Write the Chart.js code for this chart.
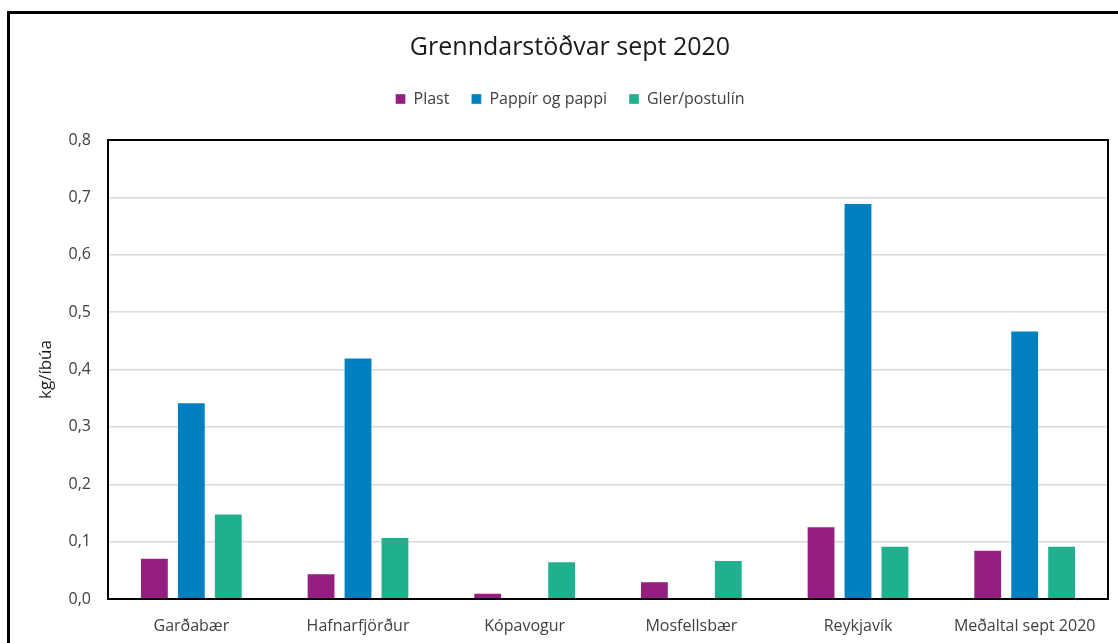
<!DOCTYPE html>
<html>
<head>
<meta charset="utf-8">
<script src="https://cdn.jsdelivr.net/npm/chart.js@4"></script>
<style>
  html, body { margin: 0; padding: 0; background: #fff; }
  #wrap { position: relative; width: 1118px; height: 643px; }
</style>
</head>
<body>
<div id="wrap"><canvas id="chart"></canvas></div>
<script>
// data
const categories = ["Garðabær", "Hafnarfjörður", "Kópavogur", "Mosfellsbær", "Reykjavík", "Meðaltal sept 2020"];
const plast = [0.072, 0.045, 0.011, 0.031, 0.127, 0.086];
const pappir = [0.343, 0.421, 0, 0, 0.690, 0.468];
const gler = [0.149, 0.108, 0.066, 0.068, 0.093, 0.093];
const seriesNames = ["Plast", "Pappír og pappi", "Gler/postulín"];

const colors = {
  plast: "#951f80",   // purple
  pappir: "#0080bf",  // blue
  gler: "#20b08e"     // teal
};

const FONT = "'Open Sans', 'Noto Sans', sans-serif";

// frame around the whole chart + border around the plot area
const frames = {
  id: "frames",
  afterDraw(chart) {
    const { ctx, chartArea: a } = chart;
    ctx.save();
    ctx.strokeStyle = "#000";
    ctx.lineWidth = 2;
    ctx.strokeRect(a.left, a.top, a.right - a.left, a.bottom - a.top);
    ctx.lineWidth = 3;
    ctx.strokeRect(8.5, 12.5, 1300, 800);
    ctx.restore();
  }
};

// extra room under the legend so the plot starts lower
const legendSpace = {
  id: "legendSpace",
  beforeLayout(chart) {
    const lg = chart.legend;
    if (lg && !lg._patched) {
      const fit = lg.fit;
      lg.fit = function () { fit.call(this); this.height += 23; };
      lg._patched = true;
    }
  }
};

const ds = (label, data, color) => ({
  label, data,
  backgroundColor: color,
  borderColor: "rgba(255,255,255,0.35)",
  borderWidth: 1,
  categoryPercentage: 0.665,
  barPercentage: 0.78
});

new Chart(document.getElementById("chart"), {
  type: "bar",
  data: {
    labels: categories,
    datasets: [
      ds(seriesNames[0], plast, colors.plast),
      ds(seriesNames[1], pappir, colors.pappir),
      ds(seriesNames[2], gler, colors.gler)
    ]
  },
  options: {
    responsive: true,
    maintainAspectRatio: false,
    animation: false,
    layout: { padding: { left: 32, right: 10, top: 0, bottom: 0 } },
    plugins: {
      title: {
        display: true,
        text: "Grenndarstöðvar sept 2020",
        color: "#1a1a1a",
        font: { family: FONT, size: 25, weight: "normal" },
        padding: { top: 33, bottom: 6 }
      },
      legend: {
        position: "top",
        labels: {
          color: "#404040",
          font: { family: FONT, size: 16 },
          boxWidth: 10,
          boxHeight: 10,
          padding: 22
        }
      },
      tooltip: { enabled: false }
    },
    scales: {
      x: {
        grid: { display: false, drawTicks: false },
        border: { display: true, color: "#000", width: 2 },
        ticks: { color: "#404040", font: { family: FONT, size: 16 }, padding: 18, maxRotation: 0 },
        afterFit(s) { s.height = 44; }
      },
      y: {
        min: 0, max: 0.8,
        ticks: {
          stepSize: 0.1,
          color: "#404040",
          font: { family: FONT, size: 16 },
          padding: 17,
          callback: v => v.toFixed(1).replace(".", ",")
        },
        grid: { color: "#d9d9d9", lineWidth: 1.5, drawTicks: false },
        border: { display: true, color: "#000", width: 2 },
        title: {
          display: true,
          text: "kg/íbúa",
          color: "#1a1a1a",
          font: { family: FONT, size: 17 },
          padding: { top: 4, bottom: 0 }
        },
        afterFit(s) { s.width = 76; }
      }
    }
  },
  plugins: [frames, legendSpace]
});
</script>
</body>
</html>
